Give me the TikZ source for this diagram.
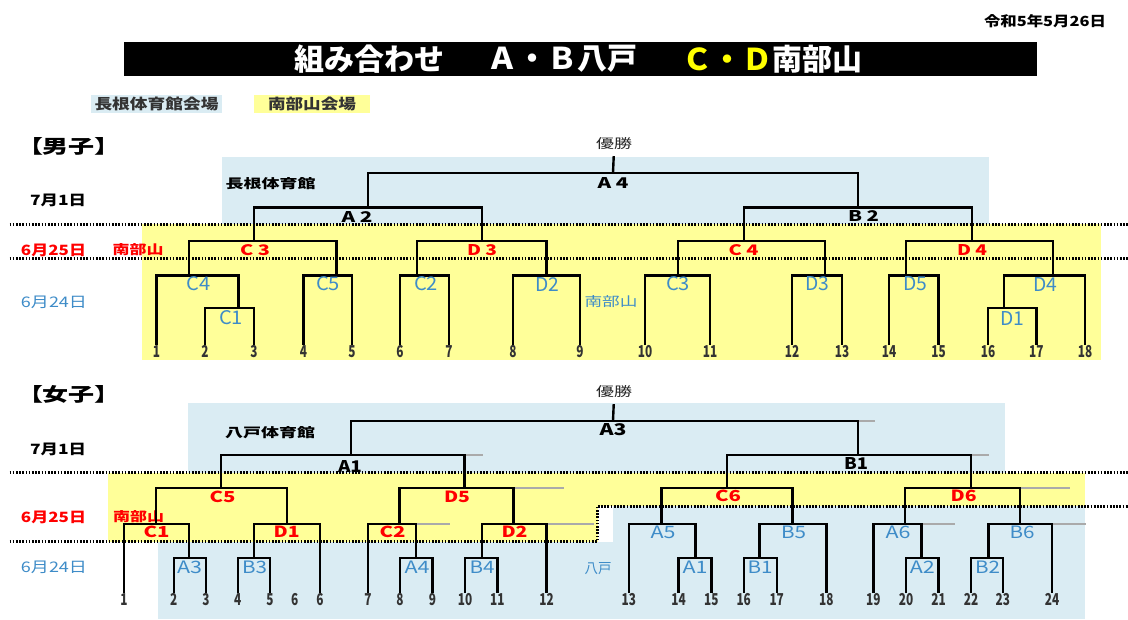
\documentclass[tikz,border=0pt]{standalone}
\usepackage{fontspec}
\setmainfont{Noto Sans CJK JP}
\definecolor{bgblue}{RGB}{218,236,243}
\definecolor{bgyel}{RGB}{255,255,153}
\definecolor{tblue}{RGB}{62,140,200}
\definecolor{tred}{RGB}{255,0,0}
\definecolor{tyel}{RGB}{255,255,0}
\definecolor{extgray}{RGB}{170,170,170}
\newcommand\fx[3]{\resizebox{#1pt}{#2pt}{#3}}
\newcommand\nm[1]{\scalebox{0.72}[1]{\fontsize{16.4}{16.4}\selectfont\bfseries #1}}
\begin{document}
\begin{tikzpicture}[x=1pt,y=-1pt,
 br/.style={line width=2.4pt, line join=miter},
 ext/.style={line width=1.6pt, extgray},
 dotl/.style={line width=3pt, dash pattern=on 1.7pt off 1.5pt},
 tx/.style={inner sep=0pt, outer sep=0pt},
 num/.style={inner sep=0pt, outer sep=1pt, text height=11.8pt, text depth=0pt, text=black!80},
 bk/.style={tx, font=\bfseries, text=black},
 rd/.style={tx, font=\bfseries, text=tred},
 bu/.style={tx, text=tblue},
]
\useasboundingbox (0,0) rectangle (1128,619);
\fill[white] (0,0) rectangle (1128,619);

% ---------------- header
\node[bk] (date) at (1045,21) {\fx{122}{12}{令和5年5月26日}};
\fill[black] (124,42) rectangle (1037,76);
\begin{scope}[every node/.style={tx, anchor=west, font=\fontsize{30}{30}\selectfont\bfseries}]
\node[text=white] (t1) at (294,59) {組み合わせ};
\node[text=white] (t2) at (487,59) {Ａ・Ｂ八戸};
\node[text=tyel] (t3) at (682,59) {Ｃ・Ｄ};
\node[text=white] (t4) at (772,59) {南部山};
\end{scope}
\node[tx, fill=bgblue, minimum width=131pt, minimum height=17.5pt, font=\bfseries, text=black!80] (leg1) at (156.5,103.8) {\fx{124}{12.5}{長根体育館会場}};
\node[tx, fill=bgyel, minimum width=116pt, minimum height=17.5pt, font=\bfseries, text=black!80] (leg2) at (312,103.8) {\fx{88}{12.5}{南部山会場}};

% ---------------- men backgrounds
\fill[bgblue] (222,157) rectangle (988.6,224);
\fill[bgyel] (142,224) rectangle (1101,360);
\draw[dotl] (9.5,224) -- (1128,224);
\draw[dotl] (9.5,258.3) -- (1128,258.3);

\node[bk, anchor=west] (men) at (17,146) {\fx{104}{16}{【男子】}};
\node[tx, text=black!85] (winm) at (614,144) {\fx{36}{11}{優勝}};
\node[bk] (hallm) at (270.5,184) {\fx{90}{11}{長根体育館}};
\node[bk] (d71m) at (58,200) {\fx{56}{11.5}{7月1日}};
\node[rd] (d625m) at (53.5,250) {\fx{65}{11.5}{6月25日}};
\node[rd] (vnm) at (138,250) {\fx{51}{11}{南部山}};
\node[bu] (d624m) at (54,302) {\fx{66}{11.5}{6月24日}};
\node[bu] (vnm2) at (611,302) {\fx{53}{11}{南部山}};

% men numbers
\foreach \n/\x in {1/156.5,2/205,3/254,4/303.4,5/352,6/400,7/449,8/513,9/580,10/645,11/710,12/792,13/842,14/889,15/938.6,16/988,17/1036.4,18/1085}
  \node[num] (m\n) at (\x,352) {\nm{\n}};

% men joints
\coordinate (mC1) at (238.5,307.7);
\coordinate (mD1) at (1003.8,307.7);
\coordinate (mC4) at (189,275.3);
\coordinate (mC5) at (336.6,275.3);
\coordinate (mC2) at (417,275.3);
\coordinate (mD2) at (546.6,275.3);
\coordinate (mC3b) at (677.8,275.3);
\coordinate (mD3b) at (825,275.3);
\coordinate (mD5) at (906,275.3);
\coordinate (mD4b) at (1052.7,275.3);
\coordinate (mC3) at (254,240.7);
\coordinate (mD3) at (481.7,240.7);
\coordinate (mC4r) at (743.7,240.7);
\coordinate (mD4r) at (972,240.7);
\coordinate (mA2) at (368,207.3);
\coordinate (mB2) at (858,207.3);
\coordinate (mA4) at (613,172.7);

\begin{scope}[br]
\draw (m2.north) |- (mC1) -| (m3.north);
\draw (m16.north) |- (mD1) -| (m17.north);
\draw (m1.north) |- (mC4) -| (mC1);
\draw (m4.north) |- (mC5) -| (m5.north);
\draw (m6.north) |- (mC2) -| (m7.north);
\draw (m8.north) |- (mD2) -| (m9.north);
\draw (m10.north) |- (mC3b) -| (m11.north);
\draw (m12.north) |- (mD3b) -| (m13.north);
\draw (m14.north) |- (mD5) -| (m15.north);
\draw (mD1) |- (mD4b) -| (m18.north);
\draw (mC4) |- (mC3) -| (mC5);
\draw (mC2) |- (mD3) -| (mD2);
\draw (mC3b) |- (mC4r) -| (mD3b);
\draw (mD5) |- (mD4r) -| (mD4b);
\draw (mC3) |- (mA2) -| (mD3);
\draw (mC4r) |- (mB2) -| (mD4r);
\draw (mA2) |- (mA4) -| (mB2);
\draw[shorten >=6pt] (mA4) -- (winm.south);
\end{scope}

% men labels
\node[bk] (lA4) at (613,183) {\fx{31}{11}{A 4}};
\node[bk] (lA2) at (357,217) {\fx{31}{11}{A 2}};
\node[bk] (lB2) at (863.5,216) {\fx{31}{11}{B 2}};
\node[rd] (lC3) at (255,250) {\fx{30}{11}{C 3}};
\node[rd] (lD3) at (482,250) {\fx{30}{11}{D 3}};
\node[rd] (lC4r) at (743.5,250) {\fx{30}{11}{C 4}};
\node[rd] (lD4r) at (972,250) {\fx{30}{11}{D 4}};
\foreach \t/\x/\y in {C4/198.5/284, C5/328/284, C2/426/284, D2/547/284, C3/678/284, D3/817/284, D5/915/284, D4/1045/284, C1/231/318, D1/1012/318}
  \node[bu] (lm\t) at (\x,\y) {\fx{24}{14}{\t}};

% ---------------- women backgrounds
\fill[bgblue] (188,403) rectangle (1005,472.7);
\fill[bgyel] (108,472.7) rectangle (1085,506);
\fill[bgyel] (108,506) rectangle (598,541.7);
\fill[bgblue] (157.6,541.7) rectangle (1085,619);
\fill[bgblue] (612.5,506) rectangle (1085,541.7);
\draw[dotl] (9.5,472.7) -- (1128,472.7);
\draw[dotl] (9.5,541.7) -- (597,541.7) -- (597,506) -- (1128,506);

\node[bk, anchor=west] (women) at (17,394) {\fx{104}{16}{【女子】}};
\node[tx, text=black!85] (winw) at (614,392) {\fx{36}{11}{優勝}};
\node[bk] (hallw) at (270,432.5) {\fx{90}{11}{八戸体育館}};
\node[bk] (d71w) at (58,449.5) {\fx{56}{11.5}{7月1日}};
\node[rd] (d625w) at (53.5,517) {\fx{65}{11.5}{6月25日}};
\node[rd] (vnw) at (138.5,516.5) {\fx{51}{11}{南部山}};
\node[bu] (d624w) at (54,567) {\fx{66}{11.5}{6月24日}};
\node[bu] (vhw) at (598,568.5) {\fx{27}{11}{八戸}};

% women numbers
\foreach \n/\x in {1/124,2/173.7,3/206,4/237.8,5/270,6/320,7/368,8/400,9/432.4,10/465,11/497.3,12/546.6,13/628.8,14/678.5,15/711.4,16/743.7,17/776.7,18/826.3,19/873.4,20/906,21/938.6,22/971,23/1002.8,24/1052}
  \node[num] (w\n) at (\x,600) {\nm{\n}};
\node[num] (w6x) at (294.6,600) {\nm{6}};

% women joints
\coordinate (wA3) at (189,557.7);
\coordinate (wB3) at (253.8,557.7);
\coordinate (wA4) at (416,557.7);
\coordinate (wB4) at (481.7,557.7);
\coordinate (wA1) at (695.5,557.7);
\coordinate (wB1) at (759.3,557.7);
\coordinate (wA2) at (921.6,557.7);
\coordinate (wB2) at (988.6,557.7);
\coordinate (wC1) at (155.7,523.7);
\coordinate (wD1) at (287,523.7);
\coordinate (wC2) at (399.6,523.7);
\coordinate (wD2) at (513.4,523.7);
\coordinate (wA5) at (661.4,523.7);
\coordinate (wB5) at (792.6,523.7);
\coordinate (wA6) at (905,523.7);
\coordinate (wB6) at (1020,523.7);
\coordinate (wC5) at (221,487.7);
\coordinate (wD5) at (464.5,487.7);
\coordinate (wC6) at (726.7,487.7);
\coordinate (wD6) at (971,487.7);
\coordinate (wA1t) at (351,455);
\coordinate (wB1t) at (858,455);
\coordinate (wA3t) at (613,420.7);
% grey extension ends
\coordinate (g1) at (874.5,420.7);
\coordinate (g2) at (483,455);
\coordinate (g3) at (988.6,455);
\coordinate (g4) at (564,487.7);
\coordinate (g5) at (1070,487.7);
\coordinate (g6) at (449.6,523.7);
\coordinate (g7) at (594,523.7);
\coordinate (g8) at (955,523.7);
\coordinate (g9) at (1086.4,523.7);

\begin{scope}[ext]
\draw (wB1t |- wA3t) -- (g1);
\draw (wD5 |- wA1t) -- (g2);
\draw (wD6 |- wB1t) -- (g3);
\draw (wD2 |- wD5) -- (g4);
\draw (wB6 |- wD6) -- (g5);
\draw (wA4 |- wC2) -- (g6);
\draw (w12 |- wD2) -- (g7);
\draw (wA2 |- wA6) -- (g8);
\draw (w24 |- wB6) -- (g9);
\end{scope}

\begin{scope}[br]
\draw (w2.north) |- (wA3) -| (w3.north);
\draw (w4.north) |- (wB3) -| (w5.north);
\draw (w8.north) |- (wA4) -| (w9.north);
\draw (w10.north) |- (wB4) -| (w11.north);
\draw (w14.north) |- (wA1) -| (w15.north);
\draw (w16.north) |- (wB1) -| (w17.north);
\draw (w20.north) |- (wA2) -| (w21.north);
\draw (w22.north) |- (wB2) -| (w23.north);
\draw (w1.north) |- (wC1) -| (wA3);
\draw (wB3) |- (wD1) -| (w6.north);
\draw (w7.north) |- (wC2) -| (wA4);
\draw (wB4) |- (wD2) -| (w12.north);
\draw (w13.north) |- (wA5) -| (wA1);
\draw (wB1) |- (wB5) -| (w18.north);
\draw (w19.north) |- (wA6) -| (wA2);
\draw (wB2) |- (wB6) -| (w24.north);
\draw (wC1) |- (wC5) -| (wD1);
\draw (wC2) |- (wD5) -| (wD2);
\draw (wA5) |- (wC6) -| (wB5);
\draw (wA6) |- (wD6) -| (wB6);
\draw (wC5) |- (wA1t) -| (wD5);
\draw (wC6) |- (wB1t) -| (wD6);
\draw (wA1t) |- (wA3t) -| (wB1t);
\draw[shorten >=6pt] (wA3t) -- (winw.south);
\end{scope}

% women labels
\node[bk] (lwA3) at (613,430) {\fx{27}{12}{A3}};
\node[bk] (lwA1) at (350,466.5) {\fx{24}{12}{A1}};
\node[bk] (lwB1) at (856,463.8) {\fx{24}{12}{B1}};
\foreach \t/\x/\y in {C5/222.6/496.7, D5/457/496.7, C6/728/496, D6/963.6/496, C1/156.5/532.3, D1/286.6/532, C2/392.5/532, D2/514.5/532}
  \node[rd] (lw\t) at (\x,\y) {\fx{26}{11.5}{\t}};
\foreach \t/\x/\y/\k in {A3/189.5/567.7/a, B3/254.6/567.7/b, A4/417/567.7/c, B4/482/567.7/d, A1/695/567/e, B1/760/567/f, A2/922.4/567/g, B2/987.6/567/h, A5/663/532.3/i, B5/793.5/532.3/j, A6/898/532.3/k, B6/1022/532.3/l}
  \node[bu] (lwb\k) at (\x,\y) {\fx{25}{12.5}{\t}};
\end{tikzpicture}
\end{document}
